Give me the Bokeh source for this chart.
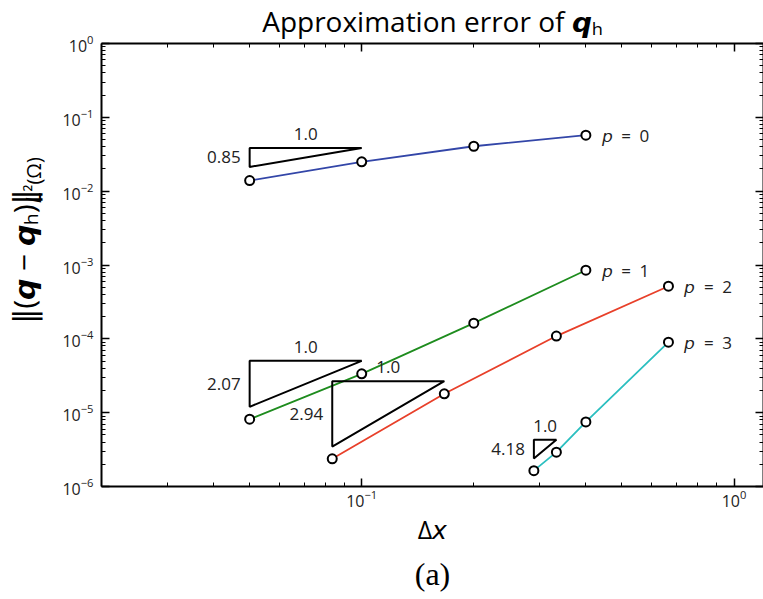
import math
from bokeh.plotting import figure
from bokeh.layouts import row
from bokeh.models import (LogAxis, FixedTicker, LogTickFormatter, Title,
                          ColumnDataSource, Range1d, CustomJSTickFormatter)
from bokeh.core.properties import value
from bokeh.embed import file_html
from bokeh.resources import INLINE

# ---------------- data ----------------
dx_p0 = [0.05, 0.1, 0.2, 0.4]
err_p0 = [0.0139, 0.025, 0.0406, 0.0573]
dx_p1 = [0.05, 0.1, 0.2, 0.4]
err_p1 = [8.15e-6, 3.36e-5, 1.63e-4, 8.5e-4]
dx_p2 = [1 / 12, 1 / 6, 1 / 3, 2 / 3]
err_p2 = [2.37e-6, 1.80e-5, 1.09e-4, 5.16e-4]
dx_p3 = [0.29, 1 / 3, 0.4, 2 / 3]
err_p3 = [1.64e-6, 2.92e-6, 7.5e-6, 9.0e-5]
series_names = ["0", "1", "2", "3"]
series_colors = ["#3346a8", "#1e8c1e", "#e8402a", "#2bbfc0"]

# slope triangles
tri_x_left = [0.05, 0.05, 1 / 12, 0.29]
tri_x_right = [0.1, 0.1, 1 / 6, 1 / 3]
tri_y_top = [0.0384, 5.04e-5, 2.67e-5, 4.29e-6]
tri_slopes = [0.85, 2.07, 2.94, 4.18]
tri_slope_labels = ["0.85", "2.07", "2.94", "4.18"]
tri_run_labels = ["1.0", "1.0", "1.0", "1.0"]

x_major = [0.1, 1.0]
x_minor = [k * 10.0 ** e for e in (-2, -1, 0) for k in range(2, 10) if 0.02 <= k * 10.0 ** e <= 1.2]
y_major = [10.0 ** e for e in range(-6, 1)]
y_minor = [k * 10.0 ** e for e in range(-6, 0) for k in range(2, 10)]

# y axis label: main part and its subscript
ylab_texts = ["\u2016(\U0001D666 \u2212 \U0001D666\u2095)\u2016", "\U0001D613\u00B2(\u03A9)"]

FONT = "Open Sans, DejaVu Sans"
TXT = "#222222"
SP = "\u2002"
W_LAB = 50      # width of the strip holding the y axis label
H = 599

# ---------------- y-label strip ----------------
lab_fig = figure(width=W_LAB, height=H, x_range=Range1d(0, W_LAB), y_range=Range1d(0, H),
                 output_backend="svg", toolbar_location=None,
                 x_axis_location=None, y_axis_location=None,
                 min_border=0, min_border_left=0, min_border_right=0,
                 min_border_top=0, min_border_bottom=0)
lab_fig.outline_line_color = None
lab_fig.xgrid.visible = False
lab_fig.ygrid.visible = False
lab_fig.text(x=[23], y=[H - 379], text=[ylab_texts[0]], angle=math.pi / 2,
             text_align="left", text_baseline="middle",
             text_font=value(FONT), text_font_size="30px", text_color="black")
lab_fig.text(x=[33], y=[H - 215], text=[ylab_texts[1]], angle=math.pi / 2,
             text_align="left", text_baseline="middle",
             text_font=value(FONT), text_font_size="20px", text_color="black")

# ---------------- main plot ----------------
p = figure(width=763 - W_LAB, height=H, x_axis_type="log", y_axis_type="log",
           x_range=Range1d(0.02, 1.2), y_range=Range1d(1e-6, 1.0),
           output_backend="svg", toolbar_location=None,
           min_border_left=101 - W_LAB, min_border_right=0, min_border_top=43,
           min_border_bottom=113)
p.outline_line_color = None
p.xgrid.visible = False
p.ygrid.visible = False

bottom_ax = p.below[0]
left_ax = p.left[0]

p.title.text = "Approximation error of \U0001D666\u2095"
p.title.align = "center"
p.title.text_font = FONT
p.title.text_font_size = "28px"
p.title.text_font_style = "normal"
p.title.text_color = "black"
p.title.vertical_align = "top"
p.title.standoff = 3


def style_axis(ax, labels=True):
    ax.axis_line_width = 2
    ax.axis_line_color = "black"
    ax.major_tick_in = 8
    ax.major_tick_out = 0
    ax.minor_tick_in = 4
    ax.minor_tick_out = 0
    ax.major_tick_line_width = 1.5
    ax.minor_tick_line_width = 1
    ax.major_label_text_font = FONT
    ax.major_label_text_color = TXT
    if labels:
        ax.major_label_text_font_size = "16px"
    else:
        ax.major_label_text_font_size = "0px"
        ax.major_label_standoff = 0


bottom_ax.ticker = FixedTicker(ticks=x_major, minor_ticks=x_minor)
left_ax.ticker = FixedTicker(ticks=y_major, minor_ticks=y_minor)
bottom_ax.formatter = LogTickFormatter()
left_ax.formatter = LogTickFormatter()
style_axis(bottom_ax)
style_axis(left_ax)
bottom_ax.major_label_standoff = 3
left_ax.major_label_standoff = 8

top_ax = LogAxis(ticker=FixedTicker(ticks=x_major, minor_ticks=x_minor),
                 formatter=CustomJSTickFormatter(code="return ''"))
right_ax = LogAxis(ticker=FixedTicker(ticks=y_major, minor_ticks=y_minor),
                   formatter=CustomJSTickFormatter(code="return ''"))
style_axis(top_ax, labels=False)
style_axis(right_ax, labels=False)
p.add_layout(top_ax, "above")
p.add_layout(right_ax, "right")

bottom_ax.axis_label = "\u0394\U0001D639"
bottom_ax.axis_label_text_font = FONT
bottom_ax.axis_label_text_font_size = "25px"
bottom_ax.axis_label_text_font_style = "normal"
bottom_ax.axis_label_text_color = "black"
bottom_ax.axis_label_standoff = 2

cap = Title(text="(a)", align="center", text_font="Liberation Serif",
            text_font_size="32px", text_font_style="normal", text_color="black",
            standoff=10)
p.add_layout(cap, "below")

# series
all_dx = [dx_p0, dx_p1, dx_p2, dx_p3]
all_err = [err_p0, err_p1, err_p2, err_p3]
for dx, err, name, col in zip(all_dx, all_err, series_names, series_colors):
    src = ColumnDataSource(dict(x=dx, y=err))
    p.line("x", "y", source=src, line_color=col, line_width=1.8)
    p.scatter("x", "y", source=src, marker="circle", size=9, fill_color="white",
              line_color="black", line_width=2)
    lab = ColumnDataSource(dict(x=[dx[-1]], y=[err[-1]],
                                t=["\U0001D631" + SP + "=" + SP + name]))
    p.text("x", "y", text="t", source=lab, x_offset=16, text_baseline="middle",
           text_font=value(FONT), text_font_size="17px", text_color=TXT)

# slope triangles
xs, ys = [], []
run_x, run_y, rise_x, rise_y = [], [], [], []
for xl, xr, yt, s in zip(tri_x_left, tri_x_right, tri_y_top, tri_slopes):
    yb = yt * (xl / xr) ** s
    xs.append([xl, xr, xl])
    ys.append([yt, yt, yb])
    run_x.append(math.sqrt(xl * xr))
    run_y.append(yt)
    rise_x.append(xl)
    rise_y.append(math.sqrt(yt * yb))
p.patches(xs, ys, fill_color=None, line_color="black", line_width=2)
p.text(run_x, run_y, text=tri_run_labels, y_offset=-14, text_align="center",
       text_baseline="middle", text_font=value(FONT), text_font_size="17px",
       text_color=TXT)
p.text(rise_x, rise_y, text=tri_slope_labels, x_offset=-9, text_align="right",
       text_baseline="middle", text_font=value(FONT), text_font_size="17px",
       text_color=TXT)

layout = row(lab_fig, p, spacing=0)
open("out.html", "w").write(file_html(layout, INLINE))
